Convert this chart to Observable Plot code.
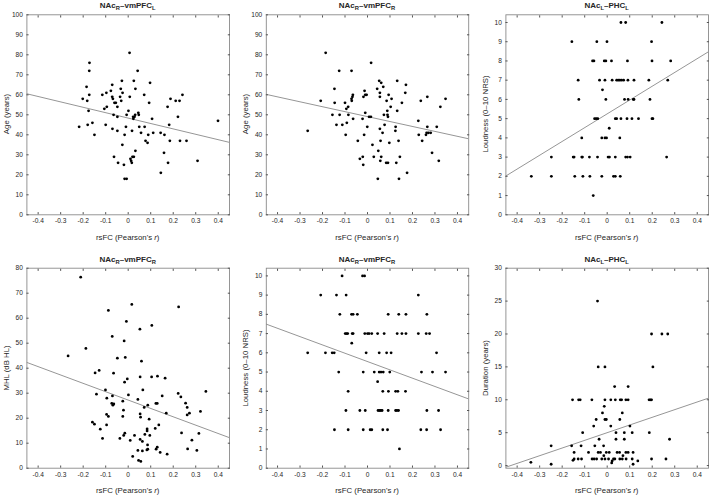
<!DOCTYPE html>
<html><head><meta charset="utf-8">
<script src="https://cdn.jsdelivr.net/npm/d3@7"></script>
<script src="https://cdn.jsdelivr.net/npm/@observablehq/plot@0.6"></script>
<style>
body{margin:0;background:#fff;}
#fig{position:relative;width:709px;height:495px;background:#fff;font-family:"Liberation Sans",Arial,Helvetica,sans-serif;color:#262626;overflow:hidden}
#fig svg{position:absolute;left:0;top:0}
.ttl{position:absolute;width:160px;text-align:center;font-weight:bold;font-size:8px;line-height:1;white-space:nowrap}
.ttl sub{font-size:5.8px;vertical-align:-1.7px;line-height:0}
.xl{position:absolute;width:160px;text-align:center;font-size:7.8px;line-height:1;white-space:nowrap;transform:translate(-50%,-50%)}
.yl{position:absolute;font-size:7.8px;line-height:1;white-space:nowrap;transform:translate(-50%,-50%) rotate(-90deg)}
</style></head>
<body><div id="fig"></div>
<script>
const xDomain = [-0.45, 0.45];
const xTicks = [-0.4, -0.3, -0.2, -0.1, 0, 0.1, 0.2, 0.3, 0.4];
const ticks100 = [0,10,20,30,40,50,60,70,80,90,100];
const ticks80 = [0,10,20,30,40,50,60,70,80];
const ticks10 = [0,1,2,3,4,5,6,7,8,9,10];
const ticks30 = [0,5,10,15,20,25,30];

// fitted line: y at x = -0.45 and x = 0.45
const p1Fit = [60.5, 36.2];
const p2Fit = [60.2, 38.0];
const p3Fit = [2.02, 8.48];
const p4Fit = [42.3, 12.2];
const p5Fit = [7.49, 3.6];
const p6Fit = [-0.25, 10.25];

const p1Points = [[-0.218,44],[-0.202,58],[-0.185,64],[-0.182,57],[-0.180,45],[-0.176,52],[-0.173,60],[-0.173,72],[-0.172,76],[-0.159,46],[-0.150,40],[-0.115,60],[-0.106,53],[-0.100,45],[-0.097,61],[-0.095,54],[-0.077,62],[-0.071,65],[-0.068,58],[-0.071,59],[-0.070,43],[-0.065,50],[-0.063,29],[-0.061,56],[-0.055,56],[-0.048,54],[-0.048,49],[-0.048,42],[-0.045,26],[-0.036,59],[-0.033,63],[-0.031,57],[-0.028,67],[-0.026,35],[-0.025,61],[-0.019,25],[-0.016,40],[-0.016,18],[-0.010,44],[-0.007,18],[-0.007,50],[0.001,52],[0.006,81],[0.007,59],[0.010,28],[0.013,27],[0.016,26],[0.017,42],[0.019,29],[0.022,49],[0.023,48],[0.025,29],[0.025,67],[0.028,49],[0.031,50],[0.032,63],[0.032,32],[0.042,72],[0.045,51],[0.047,50],[0.049,44],[0.057,41],[0.071,60],[0.073,44],[0.077,37],[0.086,36],[0.089,40],[0.093,56],[0.097,66],[0.106,48],[0.111,41],[0.144,41],[0.145,21],[0.159,31],[0.161,40],[0.175,54],[0.177,26],[0.182,45],[0.185,37],[0.188,58],[0.211,57],[0.221,49],[0.228,57],[0.230,37],[0.241,60],[0.259,37],[0.308,27],[0.399,47]];

const p2Points = [[-0.266,42],[-0.208,57],[-0.186,81],[-0.156,50],[-0.147,63],[-0.146,56],[-0.138,45],[-0.126,72],[-0.124,50],[-0.112,45],[-0.100,56],[-0.097,40],[-0.094,53],[-0.092,46],[-0.086,54],[-0.085,50],[-0.071,72],[-0.071,58],[-0.070,57],[-0.067,59],[-0.065,60],[-0.064,48],[-0.043,37],[-0.034,28],[-0.022,48],[-0.021,29],[-0.019,25],[-0.018,59],[-0.015,40],[-0.013,62],[-0.010,60],[-0.010,51],[-0.004,60],[-0.001,44],[0.007,49],[0.015,49],[0.016,76],[0.022,35],[0.028,29],[0.043,63],[0.046,18],[0.048,32],[0.052,67],[0.055,59],[0.055,61],[0.055,43],[0.057,27],[0.058,37],[0.061,66],[0.061,29],[0.067,41],[0.070,64],[0.073,50],[0.076,45],[0.083,26],[0.085,57],[0.088,52],[0.089,50],[0.091,49],[0.091,26],[0.094,60],[0.097,36],[0.103,54],[0.107,58],[0.124,42],[0.125,44],[0.128,26],[0.132,67],[0.132,52],[0.138,37],[0.140,18],[0.144,29],[0.153,56],[0.168,61],[0.171,65],[0.176,21],[0.226,47],[0.228,40],[0.237,57],[0.243,37],[0.260,40],[0.263,41],[0.266,59],[0.266,44],[0.271,41],[0.281,41],[0.287,31],[0.308,44],[0.317,27],[0.324,54],[0.347,58]];

const p3Points = [[0.061,10],[0.082,10],[0.243,10],[-0.157,9],[-0.046,9],[-0.001,9],[0.197,9],[-0.065,8],[-0.059,8],[-0.013,8],[-0.006,8],[0.019,8],[0.090,8],[0.199,8],[0.282,8],[-0.129,7],[-0.034,7],[-0.010,7],[0.022,7],[0.042,7],[0.049,7],[0.056,7],[0.064,7],[0.073,7],[0.092,7],[0.119,7],[0.185,7],[0.269,7],[-0.021,6.5],[-0.126,6],[-0.006,6],[0.077,6],[0.093,6],[0.116,6],[0.119,6],[0.190,6],[-0.056,5],[-0.049,5],[-0.042,5],[0.036,5],[0.042,5],[0.061,5],[0.088,5],[0.110,5],[0.139,5],[0.199,5],[0.203,5],[0.009,4.5],[-0.113,4],[-0.024,4],[-0.010,4],[-0.003,4],[0.056,4],[-0.248,3],[-0.151,3],[-0.147,3],[-0.113,3],[-0.110,3],[-0.079,3],[-0.043,3],[0.004,3],[0.010,3],[0.036,3],[0.082,3],[0.090,3],[0.102,3],[0.264,3],[-0.337,2],[-0.248,2],[-0.144,2],[-0.108,2],[-0.077,2],[-0.024,2],[0.028,2],[0.036,2],[0.058,2],[-0.062,1]];

const p4Points = [[-0.211,76.4],[-0.088,63.1],[-0.008,58.7],[-0.071,52.7],[-0.018,50.9],[-0.188,47.9],[-0.267,44.9],[-0.048,44],[-0.013,44.3],[0.016,65.5],[0.224,64.5],[0.052,55.6],[0.105,57.1],[0.059,42.8],[-0.147,38.1],[-0.129,39.1],[-0.065,38],[-0.004,35.7],[-0.016,34.4],[-0.101,31.3],[-0.141,29.6],[-0.070,28.9],[-0.095,28],[0.001,29.3],[-0.024,26.8],[-0.073,25.9],[-0.068,25.2],[-0.064,25.7],[-0.021,23.2],[-0.096,21.5],[-0.088,20.7],[-0.024,20.7],[-0.159,18.4],[-0.150,17.6],[-0.096,17.3],[-0.124,15.6],[-0.015,14],[-0.020,13.1],[-0.114,11.9],[-0.037,11.9],[0.009,11.1],[0.053,36.5],[0.104,36.5],[0.130,36.8],[0.164,36],[0.065,31.3],[0.043,27.5],[0.071,24.3],[0.087,25.2],[0.123,25.9],[0.129,25.9],[0.151,28.9],[0.169,22],[0.053,21.7],[0.055,20.4],[0.093,19.6],[0.120,15.9],[0.136,17.3],[0.084,15.7],[0.084,14.9],[0.074,13.5],[0.096,13.1],[0.028,13.1],[0.053,11.5],[0.063,10.7],[0.086,9.3],[0.043,7.1],[0.063,6.9],[0.083,7.3],[0.087,7.6],[0.129,8.4],[0.124,7.6],[0.142,6.3],[0.173,5.6],[0.020,4.7],[0.046,3.1],[0.056,2.7],[0.222,29.9],[0.234,28.5],[0.255,26],[0.262,24.3],[0.272,22],[0.262,21.3],[0.321,22.7],[0.345,30.7],[0.237,14.1],[0.314,13.9],[0.283,11.2],[0.264,7.7],[0.305,7.1]];

const p5Points = [[-0.113,10],[-0.022,10],[-0.013,10],[-0.208,9],[-0.138,9],[-0.095,9],[0.226,9],[-0.123,8],[-0.071,8],[-0.064,8],[-0.045,8],[0.092,8],[0.139,8],[0.171,8],[0.264,8],[-0.099,7],[-0.093,7],[-0.088,7],[-0.068,7],[-0.064,7],[-0.012,7],[0,7],[0.007,7],[0.019,7],[0.045,7],[0.074,7],[0.132,7],[0.153,7],[0.171,7],[0.226,7],[0.261,7],[0.276,7],[-0.070,6.5],[-0.266,6],[-0.187,6],[-0.157,6],[-0.148,6],[-0.006,6],[0.052,6],[0.085,6],[0.105,6],[0.307,6],[-0.128,5],[-0.019,5],[0.030,5],[0.052,5],[0.060,5],[0.070,5],[0.099,5],[0.240,5],[0.289,5],[0.347,5],[0.045,4.5],[-0.086,4],[0.068,4],[0.093,4],[0.125,4],[0.135,4],[0.169,4],[-0.096,3],[-0.034,3],[-0.010,3],[0.047,3],[0.053,3],[0.059,3],[0.065,3],[0.092,3],[0.125,3],[0.131,3],[0.138,3],[0.264,3],[0.316,3],[-0.147,2],[-0.086,2],[-0.019,2],[0.012,2],[0.019,2],[0.068,2],[0.089,2],[0.237,2],[0.263,2],[0.325,2],[0.142,1]];

const p6Points = [[0.033,12],[0.093,12],[-0.040,15],[-0.010,15],[0.203,15],[0.197,20],[0.243,20],[0.269,20],[-0.043,25],[-0.154,10],[-0.127,10],[-0.120,10],[-0.068,10],[-0.010,10],[0.016,10],[0.036,10],[0.058,10],[0.064,10],[0.083,10],[0.093,10],[0.186,10],[0.192,10],[0.197,10],[-0.013,9],[-0.021,8],[0.067,8],[-0.049,7],[-0.010,7],[-0.004,7],[0.056,7],[-0.060,6],[0.016,6],[0.101,6],[-0.109,5],[0.039,5],[0.076,5],[0.111,5],[0.187,5],[-0.036,4],[0.039,4],[0.076,4],[0.277,4],[-0.249,3],[-0.158,3],[-0.116,3],[-0.055,3],[-0.016,3],[-0.147,2],[-0.083,2],[-0.040,2],[-0.030,2],[-0.004,2],[0.009,2],[0.044,2],[0.055,2],[0.083,2],[0.093,2],[0.115,2],[-0.015,1.5],[0.070,1.5],[-0.152,0.8],[-0.147,1],[-0.129,1],[-0.114,1],[-0.067,1],[-0.058,1],[-0.047,1],[-0.024,1],[-0.010,1],[0.006,1],[0.022,0.7],[0.028,1],[0.034,1],[0.056,1],[0.067,1],[0.084,1],[0.111,1],[0.136,0.7],[0.197,1],[0.261,1],[-0.339,0.5],[-0.249,0.2],[0.020,0.4],[0.115,0.2]];

const titles = [
  ["NAc","R","–vmPFC","L"], ["NAc","R","–vmPFC","R"], ["NAc","L","–PHC","L"],
  ["NAc","R","–vmPFC","R"], ["NAc","R","–vmPFC","R"], ["NAc","L","–PHC","L"]
];
const yLabels = ["Age (years)", "Age (years)", "Loudness (0–10 NRS)", "MHL (dB HL)", "Loudness (0–10 NRS)", "Duration (years)"];

const W = 709, H = 495;
const cols = [[26.4, 229], [265.8, 468.2], [505.4, 708]];
const rows = [[14.3, 214.3], [267.7, 467.7]];

const panels = [
  {pts: p1Points, fit: p1Fit, yDomain: [0, 100], yTicks: ticks100, c: 0, r: 0},
  {pts: p2Points, fit: p2Fit, yDomain: [0, 100], yTicks: ticks100, c: 1, r: 0},
  {pts: p3Points, fit: p3Fit, yDomain: [0, 10.4], yTicks: ticks10, c: 2, r: 0},
  {pts: p4Points, fit: p4Fit, yDomain: [0, 80], yTicks: ticks80, c: 0, r: 1},
  {pts: p5Points, fit: p5Fit, yDomain: [0, 10.4], yTicks: ticks10, c: 1, r: 1},
  {pts: p6Points, fit: p6Fit, yDomain: [-0.4, 30], yTicks: ticks30, c: 2, r: 1}
];

const fig = document.getElementById("fig");
const fmtX = d => (Math.abs(d) < 1e-9 ? "0" : d.toFixed(1));
const tickColor = "#555";
const textColor = "#262626";

panels.forEach((p, i) => {
  const [l, rgt] = cols[p.c];
  const [t, b] = rows[p.r];
  const data = p.pts.map(([x, y]) => ({x, y}));
  const fitData = [{x: xDomain[0], y: p.fit[0]}, {x: xDomain[1], y: p.fit[1]}];
  const svg = Plot.plot({
    width: W, height: H,
    marginLeft: l, marginRight: W - rgt, marginTop: t, marginBottom: H - b,
    style: {background: "transparent", fontFamily: "Liberation Sans, Arial, sans-serif", fontSize: "6.6px", overflow: "visible"},
    x: {domain: xDomain},
    y: {domain: p.yDomain},
    marks: [
      Plot.line(fitData, {x: "x", y: "y", stroke: "#969696", strokeWidth: 1, clip: true}),
      Plot.dot(data, {x: "x", y: "y", r: 1.4, fill: "#000", stroke: null}),
      Plot.frame({stroke: "#8a8a8a", strokeWidth: 0.9}),
      Plot.axisX(xTicks, {anchor: "bottom", tickSize: -2.2, tickPadding: 6.2, tickFormat: fmtX, label: null, stroke: tickColor, fill: textColor, fontSize: 6.6}),
      Plot.axisX(xTicks, {anchor: "top", tickSize: -2.2, tickFormat: () => "", label: null, stroke: tickColor}),
      Plot.axisY(p.yTicks, {anchor: "left", tickSize: -2.2, tickPadding: 6.2, label: null, stroke: tickColor, fill: textColor, fontSize: 6.6}),
      Plot.axisY(p.yTicks, {anchor: "right", tickSize: -2.2, tickFormat: () => "", label: null, stroke: tickColor})
    ]
  });
  fig.appendChild(svg);

  const cx = (l + rgt) / 2;
  const tt = document.createElement("div");
  tt.className = "ttl";
  const [a, s1, c2, s2] = titles[i];
  tt.innerHTML = `${a}<sub>${s1}</sub>${c2}<sub>${s2}</sub>`;
  tt.style.left = (cx - 80) + "px";
  tt.style.top = (t - 12) + "px";
  fig.appendChild(tt);

  const xl = document.createElement("div");
  xl.className = "xl";
  xl.innerHTML = "rsFC (Pearson's <i>r</i>)";
  xl.style.left = cx + "px";
  xl.style.top = (b + 23.5) + "px";
  fig.appendChild(xl);

  const yl = document.createElement("div");
  yl.className = "yl";
  yl.textContent = yLabels[i];
  yl.style.left = (l - 19.5) + "px";
  yl.style.top = ((t + b) / 2) + "px";
  fig.appendChild(yl);
});
</script></body></html>
